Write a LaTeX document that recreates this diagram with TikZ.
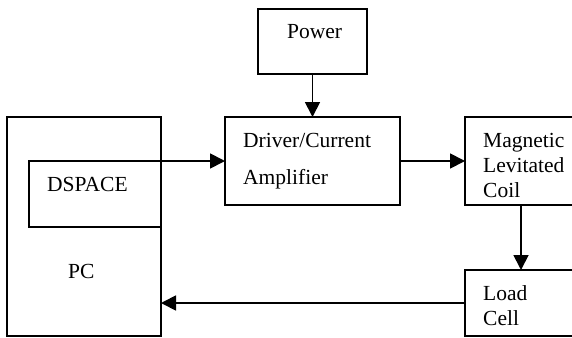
\documentclass[tikz,border=0pt]{standalone}
\usepackage{fontspec}
\setmainfont{Liberation Serif}
\usetikzlibrary{arrows.meta}
\begin{document}
\begin{tikzpicture}[x=1pt,y=-1pt,
  blk/.style={draw,line width=1.8pt,inner sep=0pt,outer sep=0pt,rectangle},
  lbl/.style={anchor=base west,inner sep=0pt,font=\fontsize{21.5}{24}\selectfont},
  conn/.style={line width=1.8pt,-{Triangle[length=15pt,width=15pt]}}]
\useasboundingbox (0,0) rectangle (572,337);
\clip (0,0) rectangle (572,337);
\node[blk,minimum width=109pt,minimum height=65pt] (power) at (312.5,41.5) {};
\node[blk,minimum width=154pt,minimum height=219pt] (pc) at (84,226.5) {};
\node[blk,minimum width=132pt,minimum height=66pt] (dspace) at (95,194) {};
\node[blk,minimum width=175pt,minimum height=88pt] (driver) at (312.5,161) {};
\node[blk,minimum width=112pt,minimum height=88pt] (mag) at (521,161) {};
\node[blk,minimum width=112pt,minimum height=66pt] (load) at (521,303) {};
\node[lbl] (tpower) at (287,38) {Power};
\node[lbl] (tdspace) at (47,191) {DSPACE};
\node[lbl] (tpc) at (68,278) {PC};
\node[lbl] (tdrv1) at (243,147) {Driver/Current};
\node[lbl] (tdrv2) at (243,184) {Amplifier};
\node[lbl] (tmag1) at (483,147) {Magnetic};
\node[lbl] (tmag2) at (483,172) {Levitated};
\node[lbl] (tmag3) at (483,197) {Coil};
\node[lbl] (tload1) at (483,300) {Load};
\node[lbl] (tload2) at (483,325) {Cell};
\draw[conn] (power.south) -- (driver.north);
\draw[conn] (pc.east |- dspace.north) -- (driver.west |- dspace.north);
\draw[conn] (driver.east) -- (mag.west);
\draw[conn] (mag.south) -- (load.north);
\draw[conn] (load.west) -- (pc.east |- load.west);
\end{tikzpicture}
\end{document}
